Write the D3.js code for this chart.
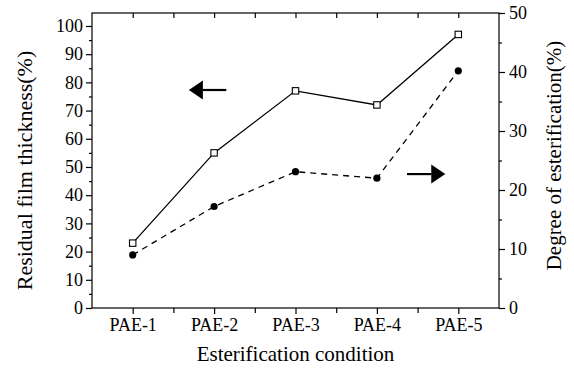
<!DOCTYPE html>
<html><head><meta charset="utf-8">
<script src="https://cdn.jsdelivr.net/npm/d3@7"></script>
<style>
body{margin:0;background:#fff;}
</style></head>
<body><svg id="c" width="574" height="370"></svg>
<script>
const categories = ["PAE-1","PAE-2","PAE-3","PAE-4","PAE-5"];
const thickness = [23, 55, 77, 72, 97];          // left axis, open squares, solid
const esterification = [9, 17.2, 23.1, 22, 40.2]; // right axis, filled circles, dashed
const leftTicks = [0,10,20,30,40,50,60,70,80,90,100];
const rightTicks = [0,10,20,30,40,50];
// arrow annotations: [tail index, tip index, value]
const leftArrow = {from:1.15, to:0.69, value:77.3};
const rightArrow = {from:3.37, to:3.84, value:22.7};

const FONT = "'Liberation Serif', 'Times New Roman', 'DejaVu Serif', serif";
const svg = d3.select("#c");
const L=92, R=499, T=13, B=308;
const x = d3.scalePoint().domain(categories).range([L,R]).padding(0.5);
const xi = d3.scaleLinear().domain([0,categories.length-1]).range([x(categories[0]), x(categories[categories.length-1])]);
const yL = d3.scaleLinear().domain([0,104.6]).range([B,T]);
const yR = d3.scaleLinear().domain([0,50]).range([B,T]);

const g = svg.append("g");
g.append("rect").attr("x",L).attr("y",T).attr("width",R-L).attr("height",B-T)
 .attr("fill","none").attr("stroke","#000").attr("stroke-width",1.2);

function styleAxis(s){
  s.select(".domain").remove();
  s.selectAll("line").attr("stroke-width",1.2);
  s.selectAll("text").style("font-family",FONT).style("font-size","18px").style("fill","#000");
  s.attr("font-family",null);
}

g.append("g").attr("transform",`translate(${L},0)`)
  .call(d3.axisLeft(yL).tickValues(leftTicks).tickSize(6).tickPadding(3)).call(styleAxis);
g.append("g").attr("transform",`translate(${L},0)`)
  .call(d3.axisLeft(yL).tickValues(leftTicks.slice(0,-1).map(v=>v+5)).tickSize(3).tickFormat("")).call(styleAxis);

g.append("g").attr("transform",`translate(${R},0)`)
  .call(d3.axisRight(yR).tickValues(rightTicks).tickSize(6).tickPadding(4)).call(styleAxis);
g.append("g").attr("transform",`translate(${R},0)`)
  .call(d3.axisRight(yR).tickValues(rightTicks.slice(0,-1).map(v=>v+5)).tickSize(3).tickFormat("")).call(styleAxis);

g.append("g").attr("transform",`translate(0,${B})`)
  .call(d3.axisBottom(x).tickSize(6).tickPadding(4)).call(styleAxis);
const mids = d3.range(categories.length-1).map(i=>i+0.5);
g.append("g").attr("transform",`translate(0,${B})`)
  .call(d3.axisBottom(xi).tickValues(mids).tickSize(5).tickFormat("")).call(styleAxis);
g.append("g").attr("transform",`translate(0,${T})`)
  .call(d3.axisBottom(xi).tickValues(d3.range(0,categories.length-0.5,0.5)).tickSize(5).tickFormat("")).call(styleAxis);

function title(sel, size){ return sel.style("font-family",FONT).style("font-size",size).style("fill","#000").attr("text-anchor","middle"); }
svg.append("text").attr("transform",`translate(32,${(T+B)/2+10}) rotate(-90)`)
  .call(title,"22px").text("Residual film thickness(%)");
svg.append("text").attr("transform",`translate(561,${(T+B)/2-5}) rotate(-90)`)
  .call(title,"21px").text("Degree of esterification(%)");
svg.append("text").attr("x",(L+R)/2).attr("y",361)
  .call(title,"21px").text("Esterification condition");

const lineL = d3.line().x((d,i)=>x(categories[i])).y(d=>yL(d));
const lineR = d3.line().x((d,i)=>x(categories[i])).y(d=>yR(d));
g.append("path").attr("d",lineL(thickness)).attr("fill","none").attr("stroke","#000").attr("stroke-width",1.3);
g.append("path").attr("d",lineR(esterification)).attr("fill","none").attr("stroke","#000")
  .attr("stroke-width",1.3).attr("stroke-dasharray","6,5");

g.selectAll(".sq").data(thickness).join("rect")
  .attr("x",(d,i)=>x(categories[i])-3.2).attr("y",d=>yL(d)-3.2)
  .attr("width",6.4).attr("height",6.4).attr("fill","#fff").attr("stroke","#000").attr("stroke-width",1.1);
g.selectAll(".dt").data(esterification).join("circle")
  .attr("cx",(d,i)=>x(categories[i])).attr("cy",d=>yR(d)).attr("r",3.6).attr("fill","#000");

function arrow(a, yScale){
  const y0 = yScale(a.value), x0 = xi(a.from), x1 = xi(a.to);
  const dir = Math.sign(x1-x0), headL = 14, headH = 9.5;
  g.append("line").attr("x1",x0).attr("y1",y0).attr("x2",x1-dir*headL).attr("y2",y0)
   .attr("stroke","#000").attr("stroke-width",2.2);
  g.append("path").attr("d",`M${x1},${y0}L${x1-dir*headL},${y0-headH}L${x1-dir*headL},${y0+headH}Z`).attr("fill","#000");
}
arrow(leftArrow, yL);
arrow(rightArrow, yR);
</script></body></html>
